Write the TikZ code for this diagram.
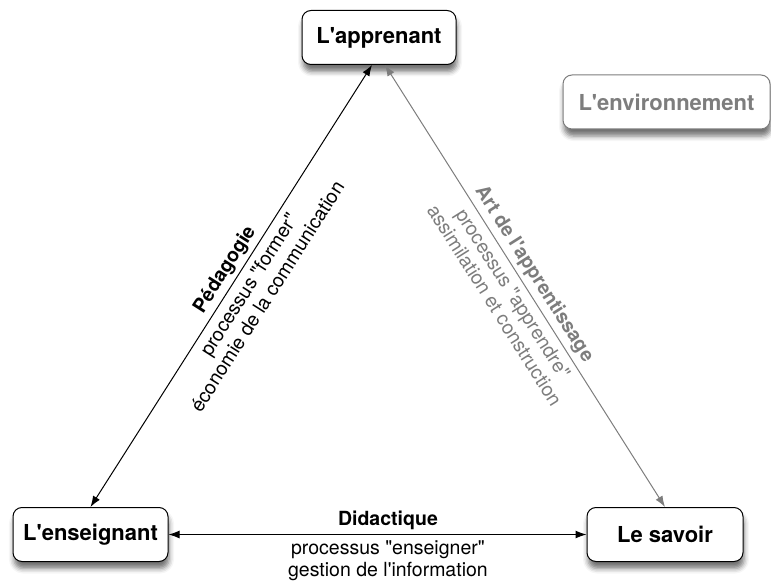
\documentclass[tikz,border=0pt]{standalone}
\usepackage{fontspec}
\setmainfont{TeX Gyre Heros}[Ligatures=TeXOff]
\usetikzlibrary{arrows.meta,shadows.blur}

\definecolor{gris}{RGB}{125,125,125}

\tikzset{
  pole/.style={draw, rounded corners=9pt, fill=white, line width=1pt,
    minimum width=154pt, minimum height=54pt, font=\fontsize{22}{26}\selectfont\bfseries,
    blur shadow={shadow xshift=1pt, shadow yshift=-7pt, shadow blur radius=5pt, shadow opacity=55}},
  lien/.style={<->, >={Latex[length=11pt,width=8pt]}, line width=1pt},
  titre/.style={font=\fontsize{19.5}{22}\selectfont\bfseries, inner sep=4pt},
  texte/.style={font=\fontsize{19.5}{22}\selectfont, align=center, inner sep=6pt}
}

\begin{document}
\begin{tikzpicture}[x=1pt, y=-1pt]
\useasboundingbox (0,0) rectangle (771,588);

%% the three poles
\node [pole] (apprenant) at (379,37.5) {L'apprenant}; % top
\node [pole, minimum width=155pt] (enseignant) at (90.5,534.5) {L'enseignant}; % bottom left
\node [pole, minimum width=156pt] (savoir) at (665,534.5) {Le savoir}; % bottom right
\node [pole, draw=gris, text=gris, minimum width=207pt] (environnement) at (666.5,102) {L'environnement}; % aside

%% sides of the triangle
\draw [lien] (enseignant.north) -- ([xshift=-7pt]apprenant.south) % left side
  node [titre, sloped, above, pos=0.52] {Pédagogie}
  node [texte, sloped, below, pos=0.52] {processus "former"\\économie de la communication};
\draw [lien, gris] ([xshift=6pt]apprenant.south) -- (savoir.north) % right side
  node [titre, sloped, above, pos=0.49] {Art de l'apprentissage}
  node [texte, sloped, below, pos=0.50] {processus "apprendre"\\assimilation et construction};
\draw [lien] (enseignant.east) -- (savoir.west) % bottom side
  node [titre, above, pos=0.525] {Didactique}
  node [texte, below, pos=0.525] {processus "enseigner"\\gestion de l'information};

\end{tikzpicture}
\end{document}
